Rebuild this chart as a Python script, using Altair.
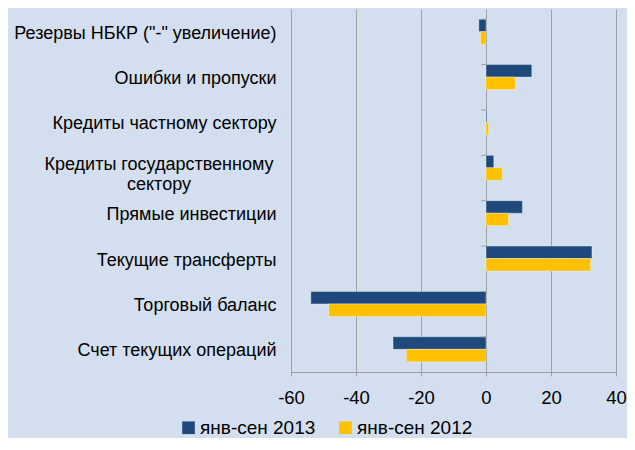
import altair as alt
import pandas as pd

categories = [
    "Резервы НБКР (\"-\" увеличение)",
    "Ошибки и пропуски",
    "Кредиты частному сектору",
    "Кредиты государственному|сектору",
    "Прямые инвестиции",
    "Текущие трансферты",
    "Торговый баланс",
    "Счет текущих операций",
]
series = ["янв-сен 2013", "янв-сен 2012"]
v2013 = [-2.2, 14.1, 0.3, 2.4, 11.2, 32.6, -53.9, -28.6]
v2012 = [-1.7, 9.0, 0.8, 5.0, 6.9, 32.2, -48.4, -24.5]
x_ticks = [-60, -40, -20, 0, 20, 40]
colors = ["#1f497d", "#ffc000"]

rows = []
for c, a, b in zip(categories, v2013, v2012):
    rows.append({"cat": c, "series": series[0], "value": a})
    rows.append({"cat": c, "series": series[1], "value": b})
df = pd.DataFrame(rows)
wrapped = pd.DataFrame({"cat": [c for c in categories if "|" in c]})
cats_df = pd.DataFrame({"cat": categories, "zero": 0.0, "tick_end": -1.5})

FONT = "Liberation Sans"
GRID = "#a0a0a0"
LABEL_SIZE = 18

yscale = alt.Scale(domain=categories, paddingInner=0.45, paddingOuter=0.225)
xscale = alt.Scale(domain=[-60, 40], nice=False, zero=False)

x_axis = alt.Axis(
    values=x_ticks, title=None, grid=True, gridColor=GRID, gridWidth=1,
    domainColor=GRID, tickColor=GRID, tickSize=4, labelFontSize=18.5,
    labelColor="#000000", labelFont=FONT, labelPadding=12, labelFlush=False,
    labelExpr="toString(datum.value)",
)
y_axis = alt.Axis(
    title=None, domain=False, ticks=False, labelFontSize=LABEL_SIZE,
    labelFont=FONT, labelColor="#000000", labelPadding=15, labelOffset=2,
    labelLimit=400, labelExpr="indexof(datum.label, '|') >= 0 ? '' : datum.label",
)

bars = alt.Chart(df).mark_bar(stroke="#ffffff", strokeOpacity=0.35, strokeWidth=1).encode(
    x=alt.X("value:Q", scale=xscale, axis=x_axis),
    y=alt.Y("cat:N", scale=yscale, sort=categories, axis=y_axis),
    yOffset=alt.YOffset("series:N", sort=series, scale=alt.Scale(domain=series, paddingInner=0)),
    color=alt.Color(
        "series:N",
        scale=alt.Scale(domain=series, range=colors),
        legend=alt.Legend(
            title=None, orient="none", direction="horizontal", legendX=-112, legendY=409,
            symbolType="square", symbolSize=160, symbolStrokeWidth=0, labelFontSize=19,
            labelFont=FONT, labelColor="#000000", columnPadding=20, labelOffset=2,
        ),
    ),
)

wrapped_label = alt.Chart(wrapped).mark_text(
    align="center", baseline="middle", dx=-132, dy=-3, font=FONT, fontSize=LABEL_SIZE,
    lineBreak="|", lineHeight=20, color="#000000",
).encode(
    x=alt.datum(-60, scale=xscale, axis=x_axis),
    y=alt.Y("cat:N", scale=yscale, sort=categories, axis=y_axis),
    text="cat:N",
)

zero_ticks = alt.Chart(cats_df).mark_rule(color=GRID, strokeWidth=1).encode(
    x=alt.X("zero:Q", scale=xscale, axis=x_axis),
    x2="tick_end:Q",
    y=alt.Y("cat:N", scale=yscale, sort=categories, bandPosition=0, axis=y_axis),
)

chart = (
    alt.layer(bars, zero_ticks, wrapped_label)
    .properties(
        width=325, height=363,
        autosize=alt.AutoSizeParams(type="none"),
        padding={"left": 283, "top": 1, "right": 11, "bottom": 66},
        background="#d3dfee",
    )
    .configure_view(stroke=None)
)

chart.save("out.html", embed_options={"renderer": "svg", "actions": False})
